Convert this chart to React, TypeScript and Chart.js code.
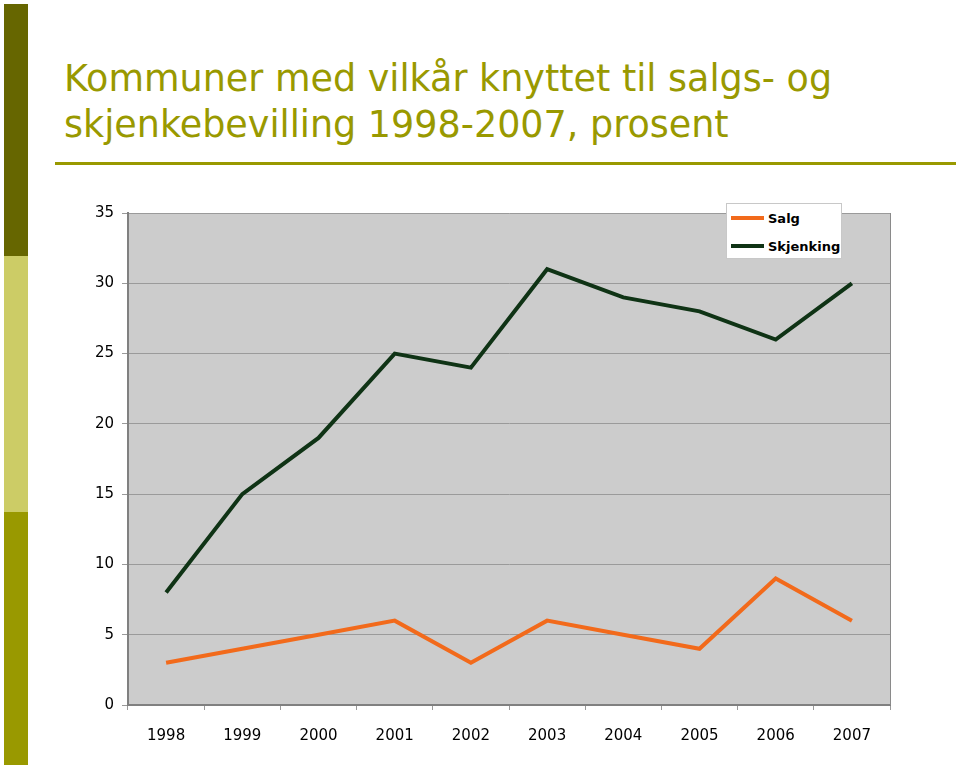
import React, { useEffect, useRef } from "react";
import { Chart, registerables } from "chart.js";

Chart.register(...registerables);

const years = ["1998", "1999", "2000", "2001", "2002", "2003", "2004", "2005", "2006", "2007"];
const salg = [3, 4, 5, 6, 3, 6, 5, 4, 9, 6];
const skjenking = [8, 15, 19, 25, 24, 31, 29, 28, 26, 30];
const seriesNames = ["Salg", "Skjenking"];
const seriesColors = ["#f26a1b", "#0f3315"];
const titleLines = ["Kommuner med vilkår knyttet til salgs- og", "skjenkebevilling 1998-2007, prosent"];

const plotBg = {
  id: "plotBg",
  beforeDraw(chart: any) {
    const { ctx, chartArea } = chart;
    if (!chartArea) return;
    ctx.save();
    ctx.fillStyle = "#cccccc";
    ctx.fillRect(chartArea.left, chartArea.top, chartArea.right - chartArea.left, chartArea.bottom - chartArea.top);
    ctx.restore();
  },
  afterDatasetsDraw(chart: any) {
    const { ctx, chartArea } = chart;
    ctx.save();
    ctx.strokeStyle = "#8a8a8a";
    ctx.lineWidth = 1;
    ctx.beginPath();
    ctx.moveTo(chartArea.right + 0.5, chartArea.top);
    ctx.lineTo(chartArea.right + 0.5, chartArea.bottom);
    ctx.stroke();
    ctx.restore();
  },
};

export default function App() {
  const ref = useRef<HTMLCanvasElement>(null);
  useEffect(() => {
    if (!ref.current) return;
    const chart = new Chart(ref.current, {
      type: "line",
      data: {
        labels: years,
        datasets: [
          {
            label: seriesNames[0],
            data: salg,
            borderColor: seriesColors[0],
            backgroundColor: seriesColors[0],
            borderWidth: 4,
            pointRadius: 0,
            tension: 0,
          },
          {
            label: seriesNames[1],
            data: skjenking,
            borderColor: seriesColors[1],
            backgroundColor: seriesColors[1],
            borderWidth: 4,
            pointRadius: 0,
            tension: 0,
          },
        ],
      },
      options: {
        animation: false,
        responsive: false,
        maintainAspectRatio: false,
        layout: { padding: { top: 23, right: 70, left: 0, bottom: 0 } },
        plugins: { legend: { display: false }, tooltip: { enabled: false } },
        scales: {
          x: {
            offset: true,
            grid: {
              offset: true,
              drawOnChartArea: false,
              drawTicks: true,
              tickLength: 5,
              color: "#9a9a9a",
            },
            border: { display: true, color: "#808080", width: 2 },
            ticks: {
              color: "#000",
              font: { family: "DejaVu Sans", size: 15 },
              padding: 17,
              maxRotation: 0,
            },
            afterFit: (s: any) => {
              s.height = 64;
            },
          },
          y: {
            min: 0,
            max: 35,
            ticks: {
              stepSize: 5,
              color: "#000",
              font: { family: "DejaVu Sans", size: 15 },
              padding: 8,
            },
            grid: {
              color: "#9a9a9a",
              drawTicks: true,
              tickLength: 6,
            },
            border: { display: true, color: "#808080", width: 2 },
            afterFit: (s: any) => {
              s.width = 128;
            },
          },
        },
      },
      plugins: [plotBg],
    });
    return () => chart.destroy();
  }, []);

  return (
    <div style={{ position: "absolute", left: 0, top: 0, width: 960, height: 769, background: "#fff", overflow: "hidden" }}>
      <div style={{ position: "absolute", left: 4, top: 4, width: 24, height: 252, background: "#666600" }} />
      <div style={{ position: "absolute", left: 4, top: 256, width: 24, height: 256, background: "#cccc66" }} />
      <div style={{ position: "absolute", left: 4, top: 512, width: 24, height: 253, background: "#999900" }} />
      <div
        style={{
          position: "absolute",
          left: 64,
          top: 56,
          fontFamily: "DejaVu Sans",
          fontSize: 36.5,
          lineHeight: "46px",
          color: "#999900",
          whiteSpace: "nowrap",
        }}
      >
        <div>{titleLines[0]}</div>
        <div>{titleLines[1]}</div>
      </div>
      <div style={{ position: "absolute", left: 55, top: 162, width: 901, height: 3, background: "#999900" }} />
      <canvas ref={ref} width={960} height={579} style={{ position: "absolute", left: 0, top: 190, width: 960, height: 579 }} />
      <div
        style={{
          position: "absolute",
          left: 726,
          top: 203,
          width: 116,
          height: 56,
          background: "#fff",
          border: "1px solid #c8c8c8",
          boxSizing: "border-box",
          fontFamily: "DejaVu Sans",
          fontWeight: "bold",
          fontSize: 13,
          color: "#000",
        }}
      >
        {seriesNames.map((n, i) => (
          <div key={n} style={{ position: "absolute", left: 4, top: 5 + i * 28, height: 18, display: "flex", alignItems: "center" }}>
            <div style={{ width: 33, height: 4, background: seriesColors[i], marginRight: 4 }} />
            <span>{n}</span>
          </div>
        ))}
      </div>
    </div>
  );
}
